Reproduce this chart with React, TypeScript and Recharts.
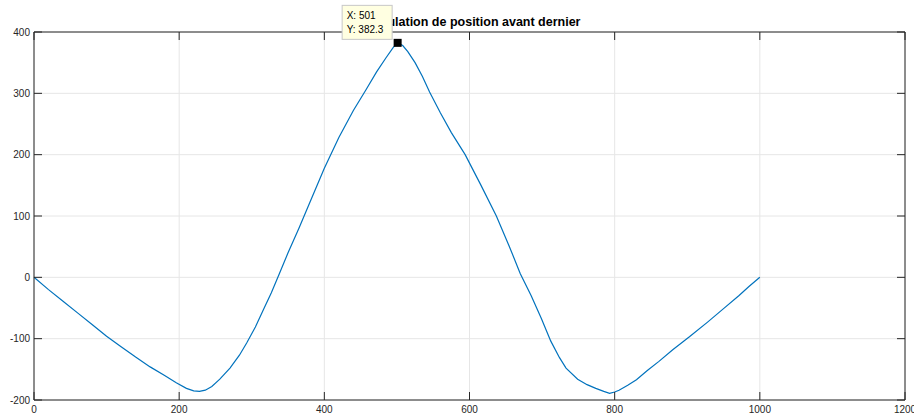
import React from "react";
import {
  CartesianGrid,
  Line,
  LineChart,
  ReferenceDot,
  ReferenceLine,
  XAxis,
  YAxis,
} from "recharts";

const positionX = [
  0, 20, 40, 60, 80, 100, 120, 140, 160, 180, 196, 210, 220, 228, 236, 245,
  256, 270, 283, 293, 305, 316, 327, 338, 350, 365, 380, 400, 420, 440, 457,
  472, 485, 495, 501, 508, 515, 525, 535, 545, 560, 575, 594, 615, 637, 655,
  670, 685, 699, 712, 724, 733, 749, 762, 774, 785, 793, 800, 806, 818, 830,
  845, 861, 880, 903, 928, 950, 971, 985, 1000,
];
const positionY = [
  0, -20, -39, -58, -77, -96, -113, -130, -146, -160, -172, -181, -185, -186,
  -184, -178, -166, -148, -127, -107, -81, -53, -25, 6, 40, 80, 122, 178, 228,
  272, 305, 335, 358, 375, 382.3, 378, 368, 350, 328, 302, 268, 236, 200, 152,
  100, 50, 6, -30, -67, -104, -131, -148, -166, -175, -181, -186, -189, -187,
  -184, -176, -167, -152, -137, -118, -97, -73, -51, -30, -15, 0,
];
const xTicks = [0, 200, 400, 600, 800, 1000, 1200];
const yTicks = [-200, -100, 0, 100, 200, 300, 400];
const title = "Simulation de position avant dernier";
const tipX = 501;
const tipY = 382.3;

const data = positionX.map((x, i) => ({ x, y: positionY[i] }));

const W = 914;
const H = 416;
const TOP = 32;
const RIGHT = 9;
const LEFT = 34;
const BOTTOM = 16;
const AXIS = "#262626";
const FONT = "'Liberation Sans', Arial, Helvetica, sans-serif";

const XTick = (props: any) => {
  const { x, y, payload } = props;
  return (
    <g>
      <line x1={x} y1={y} x2={x} y2={y - 8} stroke={AXIS} />
      <line x1={x} y1={TOP} x2={x} y2={TOP + 8} stroke={AXIS} />
      <text
        x={x}
        y={y + 13}
        textAnchor="middle"
        fontSize={10}
        fontFamily={FONT}
        fill={AXIS}
      >
        {payload.value}
      </text>
    </g>
  );
};

const YTick = (props: any) => {
  const { x, y, payload } = props;
  return (
    <g>
      <line x1={x} y1={y} x2={x + 8} y2={y} stroke={AXIS} />
      <line x1={W - RIGHT} y1={y} x2={W - RIGHT - 8} y2={y} stroke={AXIS} />
      <text
        x={x - 4}
        y={y + 3.5}
        textAnchor="end"
        fontSize={10}
        fontFamily={FONT}
        fill={AXIS}
      >
        {payload.value}
      </text>
    </g>
  );
};

const DataTip = (props: any) => {
  const { cx, cy } = props;
  return (
    <g>
      <rect x={cx - 4} y={cy - 4} width={8} height={8} fill="#000" />
      <rect
        x={cx - 55.5}
        y={cy - 37.5}
        width={50}
        height={34}
        fill="#ffffe1"
        stroke="#c8c8c8"
      />
      <text x={cx - 51} y={cy - 24} fontSize={10} fontFamily={FONT} fill="#000">
        X: {tipX}
      </text>
      <text x={cx - 51} y={cy - 10} fontSize={10} fontFamily={FONT} fill="#000">
        Y: {tipY}
      </text>
    </g>
  );
};

export default function App() {
  return (
    <div
      style={{
        position: "absolute",
        left: 0,
        top: 0,
        width: W,
        height: H,
        background: "#fff",
      }}
    >
      <div
        style={{
          position: "absolute",
          left: LEFT + 3,
          width: W - LEFT - RIGHT,
          top: 15,
          textAlign: "center",
          fontFamily: FONT,
          fontWeight: "bold",
          fontSize: 12.5,
          lineHeight: "14px",
          color: "#000",
        }}
      >
        {title}
      </div>
      <div style={{ position: "absolute", left: 0, top: 0 }}>
        <LineChart
          width={W}
          height={H}
          data={data}
          margin={{ top: TOP, right: RIGHT, left: 0, bottom: 0 }}
        >
          <CartesianGrid stroke="#e6e6e6" />
          <XAxis
            dataKey="x"
            type="number"
            domain={[0, 1200]}
            ticks={xTicks}
            height={BOTTOM}
            tickSize={0}
            tickMargin={0}
            tickLine={false}
            axisLine={{ stroke: AXIS }}
            tick={XTick}
            interval={0}
          />
          <YAxis
            type="number"
            domain={[-200, 400]}
            ticks={yTicks}
            width={LEFT}
            tickSize={0}
            tickMargin={0}
            tickLine={false}
            axisLine={{ stroke: AXIS }}
            tick={YTick}
            interval={0}
          />
          <ReferenceLine y={400} stroke={AXIS} />
          <ReferenceLine x={1200} stroke={AXIS} />
          <Line
            type="linear"
            dataKey="y"
            stroke="#0072BD"
            strokeWidth={1.2}
            dot={false}
            isAnimationActive={false}
          />
          <ReferenceDot
            x={tipX}
            y={tipY}
            r={4}
            ifOverflow="visible"
            shape={DataTip}
          />
        </LineChart>
      </div>
    </div>
  );
}
